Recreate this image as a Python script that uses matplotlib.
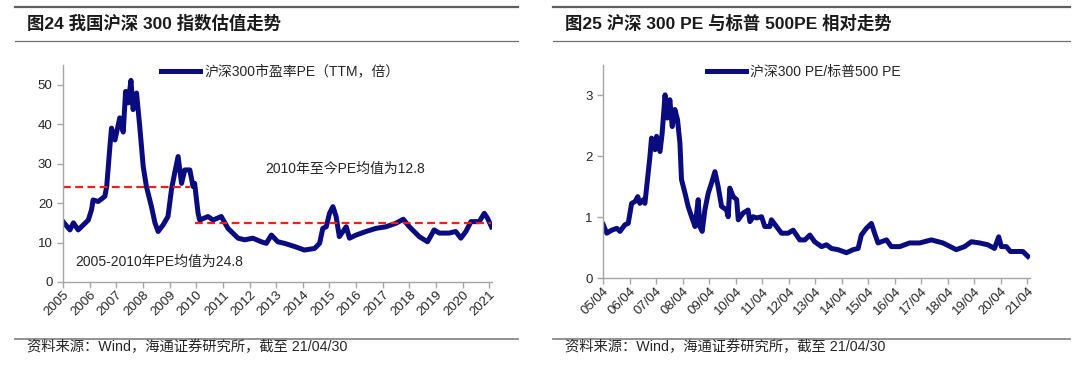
import matplotlib
matplotlib.use('Agg')
from matplotlib import pyplot as plt
from matplotlib.lines import Line2D

plt.rcParams['font.family'] = ['Liberation Sans', 'Noto Sans CJK SC', 'DejaVu Sans']

# 图24 沪深300 PE(TTM) - 按年份小数读取
pe_year = [2005.00, 2005.26, 2005.39, 2005.57, 2005.95, 2006.07, 2006.13, 2006.32, 2006.57, 2006.64,
           2006.76, 2006.82, 2006.95, 2007.13, 2007.26, 2007.35, 2007.45, 2007.55, 2007.63, 2007.76,
           2007.88, 2008.01, 2008.13, 2008.32, 2008.45, 2008.57, 2008.76, 2008.94, 2009.07, 2009.19,
           2009.32, 2009.45, 2009.57, 2009.76, 2009.88, 2009.94, 2010.07, 2010.13, 2010.44, 2010.63,
           2010.94, 2011.19, 2011.57, 2011.82, 2012.13, 2012.44, 2012.63, 2012.82, 2013.06, 2013.31,
           2013.69, 2014.06, 2014.44, 2014.63, 2014.75, 2014.88, 2015.00, 2015.13, 2015.25, 2015.37,
           2015.63, 2015.75, 2016.00, 2016.37, 2016.75, 2017.12, 2017.50, 2017.77, 2018.00, 2018.37,
           2018.68, 2018.93, 2019.12, 2019.49, 2019.74, 2019.93, 2020.12, 2020.31, 2020.62, 2020.81,
           2020.93, 2021.08]
pe_value = [15.3, 13.2, 15.0, 13.2, 15.7, 18.3, 20.8, 20.4, 21.7, 24.2,
            34.3, 39.0, 36.0, 41.6, 38.0, 48.3, 45.4, 51.1, 43.7, 47.9,
            39.4, 29.3, 24.2, 19.1, 15.0, 12.8, 14.5, 16.6, 23.4, 27.6,
            31.8, 25.0, 28.4, 28.4, 24.2, 25.0, 17.4, 15.7, 16.6, 15.7,
            16.6, 13.6, 11.1, 10.7, 11.1, 10.2, 9.8, 11.9, 10.2, 9.8,
            9.0, 8.1, 8.5, 9.8, 13.6, 14.0, 17.4, 19.1, 16.6, 11.5,
            14.0, 11.1, 11.9, 12.8, 13.6, 14.0, 14.9, 15.9, 14.0, 11.5,
            10.2, 13.2, 12.4, 12.4, 12.8, 11.1, 12.8, 15.3, 15.3, 17.4,
            16.2, 14.0]
year_ticks = list(range(2005, 2022))
year_labels = [str(y) for y in year_ticks]

# 均值线
mean_level = [24.0, 15.0]
mean_start = [2005.0, 2009.94]
mean_end = [2009.76, 2021.08]

# 图25 沪深300 PE / 标普500 PE
ratio_t = [0.01, 0.14, 0.33, 0.52, 0.64, 0.83, 0.95, 1.08, 1.21, 1.31,
           1.39, 1.52, 1.58, 1.65, 1.77, 1.83, 1.96, 2.02, 2.15, 2.23,
           2.34, 2.42, 2.52, 2.61, 2.71, 2.81, 2.90, 2.96, 3.09, 3.21,
           3.34, 3.47, 3.59, 3.65, 3.74, 3.84, 3.97, 4.09, 4.22, 4.34,
           4.47, 4.66, 4.72, 4.78, 4.91, 5.04, 5.10, 5.28, 5.47, 5.54,
           5.66, 5.79, 5.98, 6.10, 6.29, 6.35, 6.54, 6.73, 6.98, 7.17,
           7.42, 7.61, 7.80, 7.98, 8.24, 8.43, 8.61, 8.86, 9.18, 9.43,
           9.62, 9.74, 9.93, 10.12, 10.24, 10.37, 10.69, 10.87, 11.19, 11.56,
           11.94, 12.38, 12.82, 13.32, 13.63, 13.89, 14.20, 14.51, 14.76, 14.92,
           15.02, 15.21, 15.36, 15.58, 15.83, 16.02]
ratio_value = [0.88, 0.74, 0.79, 0.82, 0.77, 0.88, 0.90, 1.23, 1.26, 1.34,
               1.23, 1.29, 1.23, 1.51, 2.00, 2.30, 2.11, 2.33, 2.08, 2.38,
               3.01, 2.63, 2.93, 2.49, 2.77, 2.60, 2.22, 1.62, 1.40, 1.18,
               1.01, 0.85, 1.29, 0.85, 0.77, 1.12, 1.40, 1.56, 1.75, 1.51,
               1.18, 1.12, 1.01, 1.48, 1.34, 1.29, 0.96, 1.07, 1.12, 0.93,
               1.01, 0.99, 1.01, 0.85, 0.85, 0.96, 0.85, 0.74, 0.74, 0.79,
               0.63, 0.63, 0.71, 0.60, 0.52, 0.55, 0.49, 0.47, 0.42, 0.47,
               0.49, 0.71, 0.82, 0.90, 0.74, 0.58, 0.63, 0.52, 0.52, 0.58,
               0.58, 0.63, 0.58, 0.47, 0.52, 0.60, 0.58, 0.55, 0.49, 0.68,
               0.52, 0.52, 0.44, 0.44, 0.44, 0.36]
ratio_labels = ['05/04', '06/04', '07/04', '08/04', '09/04', '10/04', '11/04', '12/04', '13/04',
                '14/04', '15/04', '16/04', '17/04', '18/04', '19/04', '20/04', '21/04']

NAVY = '#0b0b80'
RED = '#e8231e'
GRAY = '#a6a6a6'
TXT = '#262626'


def style_axis(ax):
    for s in ['top', 'right']:
        ax.spines[s].set_visible(False)
    for s in ['left', 'bottom']:
        ax.spines[s].set_color(GRAY)
        ax.spines[s].set_linewidth(1.0)
    ax.tick_params(axis='both', colors=GRAY, labelcolor=TXT, labelsize=9.5,
                   length=4, width=1.0, direction='out')
    ax.tick_params(axis='x', pad=1)


def header(fig, x0, x1, title, source):
    fig.add_artist(Line2D([x0, x1], [1 - 7 / 365, 1 - 7 / 365], color='#606060', lw=1.6))
    fig.add_artist(Line2D([x0, x1], [1 - 41 / 365, 1 - 41 / 365], color='#707070', lw=0.9))
    fig.add_artist(Line2D([x0, x1], [1 - 339 / 365, 1 - 339 / 365], color='#8a8a8a', lw=1.3))
    fig.text(x0 + 12 / 1080, 1 - 23 / 365, title, fontsize=12.5, fontweight='bold',
             color='#1a1a1a', va='center', ha='left')
    fig.text(x0 + 12 / 1080, 1 - 347 / 365, source, fontsize=10.3, color=TXT,
             va='center', ha='left')


fig = plt.figure(figsize=(10.8, 3.65), dpi=100)

# ---- 左图 ----
ax1 = fig.add_axes([63 / 1080, 83 / 365, 429 / 1080, 217 / 365])
ax1.plot(pe_year, pe_value, color=NAVY, lw=3.6, solid_joinstyle='round',
         label='沪深300市盈率PE（TTM，倍）')
ax1.hlines(mean_level, mean_start, mean_end, colors=RED, linestyles=(0, (3.5, 2)), lw=1.6)
ax1.set_xlim(2005, 2021.1)
ax1.set_ylim(0, 55)
ax1.set_yticks([0, 10, 20, 30, 40, 50])
ax1.set_xticks(year_ticks)
ax1.set_xticklabels(year_labels, rotation=45, ha='right', rotation_mode='anchor')
style_axis(ax1)
ax1.text(2012.6, 28.6, '2010年至今PE均值为12.8', fontsize=10, color=TXT, va='center')
ax1.text(2005.45, 5.2, '2005-2010年PE均值为24.8', fontsize=10, color=TXT, va='center')
ax1.legend(loc='upper center', bbox_to_anchor=(0.506, 1.06), frameon=False, fontsize=10,
           handlelength=2.8, handletextpad=0.3, labelcolor=TXT)

header(fig, 15 / 1080, 518 / 1080, '图24 我国沪深 300 指数估值走势',
       '资料来源：Wind，海通证券研究所，截至 21/04/30')

# ---- 右图 ----
ax2 = fig.add_axes([603 / 1080, 86.7 / 365, 427 / 1080, 213.3 / 365])
ax2.plot(ratio_t, ratio_value, color=NAVY, lw=3.6, solid_joinstyle='round',
         label='沪深300 PE/标普500 PE')
ax2.set_xlim(0, 16.1)
ax2.set_ylim(0, 3.5)
ax2.set_yticks([0, 1, 2, 3])
ax2.set_xticks(range(len(ratio_labels)))
ax2.set_xticklabels(ratio_labels, rotation=45, ha='right', rotation_mode='anchor')
style_axis(ax2)
ax2.legend(loc='upper center', bbox_to_anchor=(0.47, 1.06), frameon=False, fontsize=10,
           handlelength=2.8, handletextpad=0.3, labelcolor=TXT)

header(fig, 553 / 1080, 1070 / 1080, '图25 沪深 300 PE 与标普 500PE 相对走势',
       '资料来源：Wind，海通证券研究所，截至 21/04/30')

fig.savefig('out.png', dpi=100)
